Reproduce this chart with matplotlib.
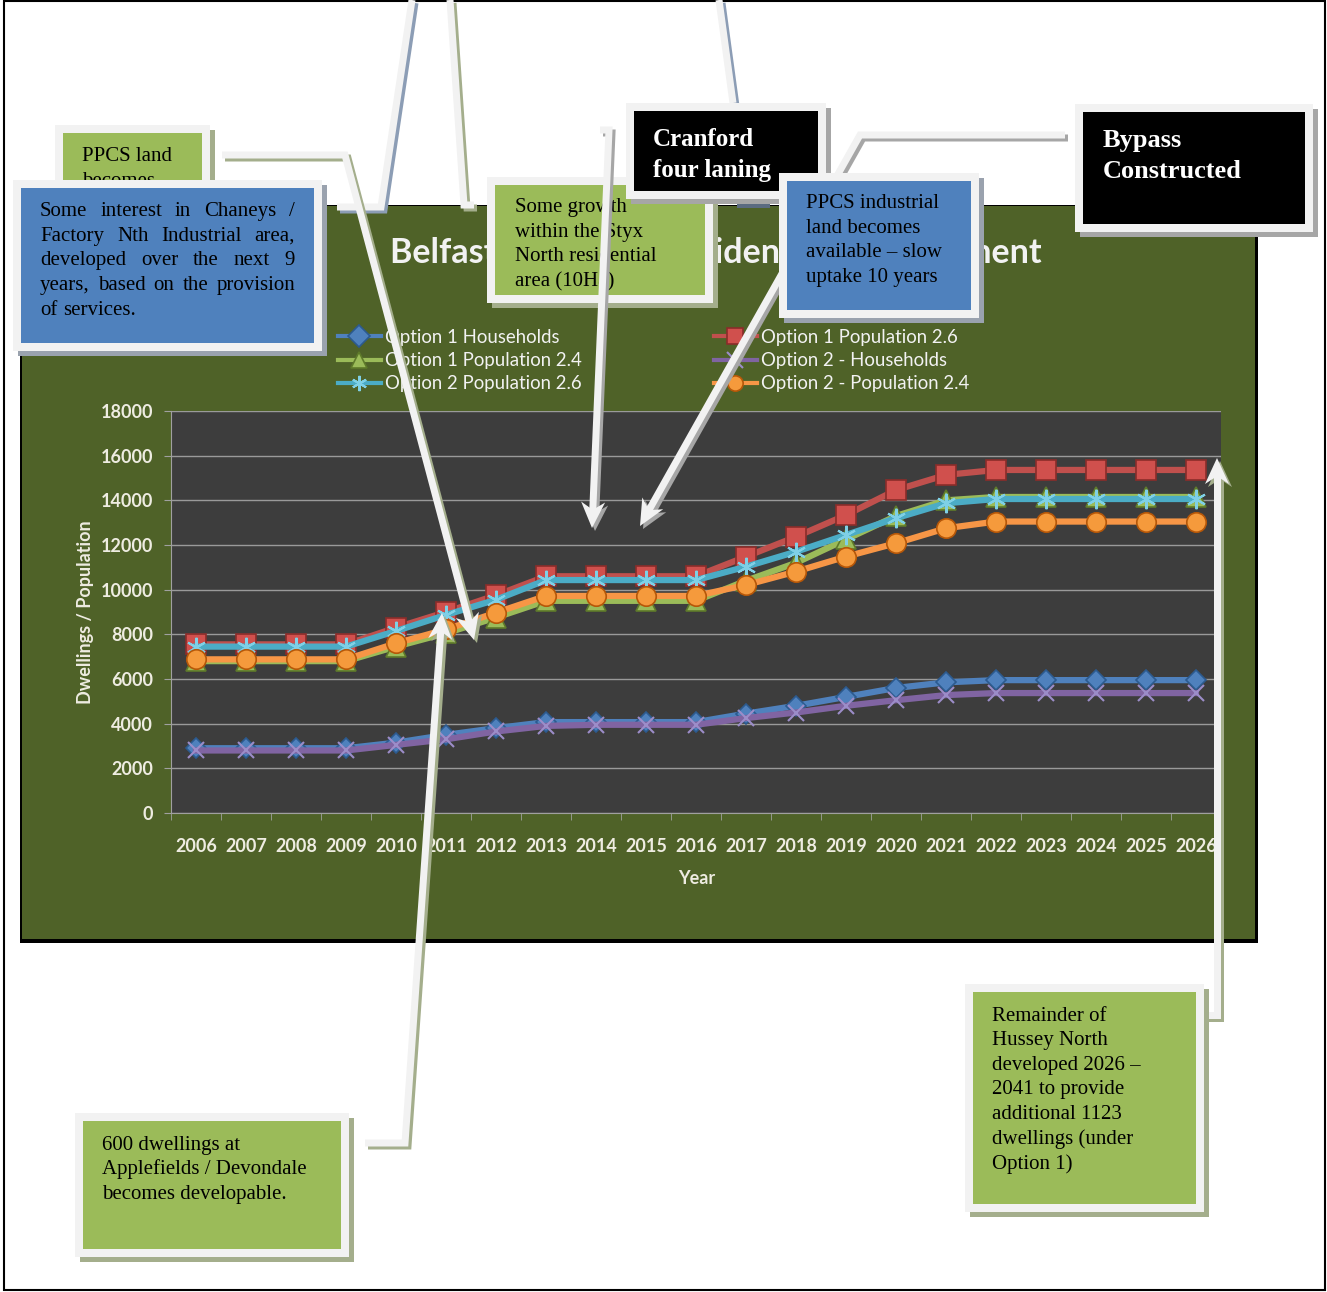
import numpy as np
import matplotlib
matplotlib.use("Agg")
import matplotlib.pyplot as plt
from matplotlib.patches import Rectangle, Polygon

W, H = 1327, 1292

# ---------------- data ----------------
years = list(range(2006, 2027))
year_labels = [str(y) for y in years]
y_ticks = [0, 2000, 4000, 6000, 8000, 10000, 12000, 14000, 16000, 18000]

opt1_households = [2900, 2900, 2900, 2900, 3150, 3500, 3800, 4070, 4070, 4070, 4070,
                   4450, 4800, 5200, 5600, 5850, 5950, 5950, 5950, 5950, 5950]
opt1_pop26 = [7550, 7550, 7550, 7550, 8300, 9000, 9750, 10600, 10600, 10600, 10600,
              11480, 12370, 13340, 14460, 15140, 15360, 15360, 15360, 15360, 15360]
opt1_pop24 = [6800, 6800, 6800, 6800, 7450, 8050, 8750, 9500, 9500, 9500, 9500,
              10400, 11200, 12250, 13300, 14000, 14150, 14150, 14150, 14150, 14150]
opt2_households = [2800, 2800, 2800, 2800, 3050, 3300, 3650, 3900, 3950, 3950, 3950,
                   4250, 4500, 4800, 5050, 5280, 5370, 5370, 5370, 5370, 5370]
opt2_pop26 = [7450, 7450, 7450, 7450, 8150, 8870, 9550, 10430, 10430, 10430, 10430,
              11030, 11700, 12450, 13200, 13870, 14060, 14060, 14060, 14060, 14060]
opt2_pop24 = [6880, 6880, 6880, 6880, 7600, 8220, 8970, 9720, 9720, 9720, 9720,
              10210, 10810, 11480, 12080, 12750, 13050, 13050, 13050, 13050, 13050]

series_labels = ["Option 1 Households", "Option 1 Population 2.6", "Option 1 Population 2.4",
                 "Option 2 - Households", "Option 2 Population 2.6", "Option 2 - Population 2.4"]
series_values = [opt1_households, opt1_pop26, opt1_pop24, opt2_households, opt2_pop26, opt2_pop24]

chart_title = "Belfast Projected Residential Development"
x_title = "Year"
y_title = "Dwellings / Population"

# ---------------- styles ----------------
series_styles = [
    dict(color="#4F81BD", marker="D", ms=10, mfc="#4F81BD", mec="#2C5A8F", mew=1.2),
    dict(color="#C0504D", marker="s", ms=14, mfc="#D0504D", mec="#8B2D2A", mew=1.2),
    dict(color="#9BBB59", marker="^", ms=14, mfc="#9BBB59", mec="#5E7A2A", mew=1.2),
    dict(color="#8064A2", marker="x", ms=12, mfc="none", mec="#9C8DC9", mew=1.5),
    dict(color="#4BACC6", marker=(6, 2, 0), ms=14, mfc="none", mec="#7FD0E6", mew=1.5),
    dict(color="#F79646", marker="o", ms=14, mfc="#F59A3C", mec="#B65708", mew=1.2),
]

plt.rcParams["font.family"] = ["Lato", "DejaVu Sans"]
PT = 0.72
LABEL_COL = "#EEECE1"
SERIF = ["Liberation Serif", "DejaVu Serif"]

fig = plt.figure(figsize=(W / 100, H / 100), dpi=100)
fig.patch.set_facecolor("white")
renderer = fig.canvas.get_renderer()

# ---------------- background layer ----------------
bg = fig.add_axes([0, 0, 1, 1], zorder=0)
bg.set_xlim(0, W)
bg.set_ylim(H, 0)
bg.axis("off")
bg.add_patch(Rectangle((4, 1), 1321, 1289, fill=False, ec="black", lw=1.5))
bg.add_patch(Rectangle((20, 205), 1238, 738, fc="black", ec="none"))
bg.add_patch(Rectangle((22, 206), 1233, 733, fc="#4F6228", ec="none"))

title = bg.text(716, 253, chart_title, ha="center", va="center", fontsize=24,
                fontweight="bold", color="#F2F2F2")
tw = title.get_window_extent(renderer).width
title.set_fontsize(24 * 652 / tw)

# ---------------- chart ----------------
ax = fig.add_axes([171 / W, 1 - 813 / H, 1050 / W, 402 / H], zorder=1)
ax.set_facecolor("#3D3D3D")
x = np.arange(len(years))
handles = []
for lab, vals, st in zip(series_labels, series_values, series_styles):
    h, = ax.plot(x, vals, lw=4.5, label=lab, solid_joinstyle="round", **st)
    handles.append(h)

ax.set_xlim(-0.5, len(years) - 0.5)
ax.set_ylim(0, 18000)
ax.set_yticks(y_ticks)
ax.set_yticklabels([str(v) for v in y_ticks])
ax.set_xticks(x)
ax.set_xticklabels(year_labels)
ax.set_xticks(np.arange(-0.5, len(years), 1), minor=True)
ax.grid(axis="y", color="#9A9A9A", lw=1)
ax.set_axisbelow(True)
for s in ["top", "right"]:
    ax.spines[s].set_visible(False)
for s in ["left", "bottom"]:
    ax.spines[s].set_color("#A0A0A0")
ax.tick_params(axis="x", which="major", length=0, pad=18, labelsize=13, labelcolor=LABEL_COL)
ax.tick_params(axis="x", which="minor", length=5, color="#A0A0A0", direction="out")
ax.tick_params(axis="y", length=5, color="#A0A0A0", pad=8, labelsize=13, labelcolor=LABEL_COL)
for lbl in ax.get_xticklabels() + ax.get_yticklabels():
    lbl.set_fontweight("bold")

ax.set_ylabel(y_title, fontsize=13, fontweight="bold", color=LABEL_COL, va="center", ha="center")
ax.yaxis.set_label_coords((86 - 171) / 1050, 0.5)
ax.set_xlabel(x_title, fontsize=13, fontweight="bold", color=LABEL_COL, va="center", ha="center")
ax.xaxis.set_label_coords((697 - 171) / 1050, -(878 - 813) / 402)

left_idx = [0, 2, 4]
right_idx = [1, 3, 5]
leg_kw = dict(loc="upper left", bbox_transform=fig.transFigure, frameon=False, fontsize=13.4,
              labelcolor="#F2F2F2", handlelength=2.3, handletextpad=0.2, labelspacing=0.33,
              borderpad=0, borderaxespad=0)
leg1 = ax.legend([handles[i] for i in left_idx], [series_labels[i] for i in left_idx],
                 bbox_to_anchor=(338 / W, 1 - 329 / H), **leg_kw)
ax.add_artist(leg1)
leg2 = ax.legend([handles[i] for i in right_idx], [series_labels[i] for i in right_idx],
                 bbox_to_anchor=(714 / W, 1 - 329 / H), **leg_kw)
for lg in (leg1, leg2):
    for ln in lg.get_lines():
        ln.set_linewidth(3)
        ln.set_markersize(11)

# ---------------- overlay (call-outs) ----------------
ov = fig.add_axes([0, 0, 1, 1], zorder=10)
ov.set_xlim(0, W)
ov.set_ylim(H, 0)
ov.axis("off")
ov.patch.set_alpha(0)

FRAME = "#F2F2F2"


def box(x0, y0, x1, y1, fill, shadow, z, inset=8):
    ov.add_patch(Rectangle((x0 + 5, y0 + 5), x1 - x0, y1 - y0, fc=shadow, ec="none", zorder=z))
    ov.add_patch(Rectangle((x0, y0), x1 - x0, y1 - y0, fc=FRAME, ec="none", zorder=z))
    ov.add_patch(Rectangle((x0 + inset, y0 + inset), x1 - x0 - 2 * inset, y1 - y0 - 2 * inset,
                           fc=fill, ec="none", zorder=z))


def lines_text(x0, centers, lines, z, bold=False, color="black", size=15, clip=None):
    off = 8.5 if bold else 6
    for yc, ln in zip(centers, lines):
        t = ov.text(x0, yc + off, ln, ha="left", va="baseline", fontsize=size,
                    fontweight="bold" if bold else "normal", color=color, family=SERIF, zorder=z + 0.5)
        if clip is not None:
            cx0, cy0, cx1, cy1 = clip
            t.set_clip_path(Rectangle((cx0, cy0), cx1 - cx0, cy1 - cy0, transform=ov.transData))


def text_width(s, size):
    t = ov.text(0, 0, s, fontsize=size, family=SERIF)
    w = t.get_window_extent(renderer).width
    t.remove()
    return w


def justified_text(x0, x1, centers, lines, z, size=15):
    space = text_width("a a", size) - 2 * text_width("a", size)
    for i, (yc, ln) in enumerate(zip(centers, lines)):
        words = ln.split()
        ts = [ov.text(0, yc + 6, w, ha="left", va="baseline", fontsize=size, color="black",
                      family=SERIF, zorder=z + 0.5) for w in words]
        widths = [t.get_window_extent(renderer).width for t in ts]
        if i == len(lines) - 1 or len(words) == 1:
            gap = space
        else:
            gap = (x1 - x0 - sum(widths)) / (len(words) - 1)
        xx = x0
        for t, w in zip(ts, widths):
            t.set_x(xx)
            xx += w + gap


def connector(pts, shadow, z, arrow=False, lw_px=7, head_len=26, head_w=12):
    pts = np.array(pts, float)
    line = pts.copy()
    head = None
    if arrow:
        tip = pts[-1]
        d = pts[-1] - pts[-2]
        d = d / np.hypot(*d)
        n = np.array([-d[1], d[0]])
        base = tip - d * head_len
        line[-1] = tip - d * head_len * 0.6
        head = np.array([tip, base + n * head_w, tip - d * head_len * 0.7, base - n * head_w])
    for off, col, zz in [(3, shadow, z), (0, FRAME, z + 0.1)]:
        ov.plot(line[:, 0] + off, line[:, 1] + off, color=col, lw=lw_px * PT,
                solid_joinstyle="miter", solid_capstyle="butt", zorder=zz)
        if head is not None:
            ov.add_patch(Polygon(head + off, closed=True, fc=col, ec="none", zorder=zz))


GREEN = "#9BBB59"
BLUE = "#4F81BD"
GSH = "#A4AE8C"
BSH = "#8C9DB5"
GRAYSH = "#A6A6A6"

# lines from the top of the page
connector([(412, 0), (381, 207), (337, 207)], BSH, 1)
connector([(450, 0), (464, 205), (474, 205)], GSH, 1)
connector([(719, 0), (733, 103)], BSH, 1)
ov.add_patch(Rectangle((737, 200), 33, 8, fc="#5B6B80", ec="none", zorder=1))

# PPCS land
connector([(222, 155), (345, 155), (474, 640)], GSH, 1.5, arrow=True)
box(55, 125, 210, 240, GREEN, GSH, 2)
lines_text(82, [155, 180], ["PPCS land", "becomes"], 2)

# Some interest in Chaneys
box(13, 180, 322, 351, BLUE, "#9AA2AE", 3)
justified_text(40, 295, [210, 235, 259, 284, 309],
               ["Some interest in Chaneys /", "Factory Nth Industrial area,",
                "developed over the next 9", "years, based on the provision", "of services."], 3)

# Styx
box(487, 177, 713, 303, GREEN, GSH, 4)
lines_text(515, [206, 231, 255, 280],
           ["Some growth", "within the Styx", "North residential", "area (10Ha)"], 4,
           clip=(487, 177, 713, 288))

# Cranford
box(626, 103, 826, 199, "black", GRAYSH, 5)
lines_text(653, [137, 168], ["Cranford", "four laning"], 5, bold=True, color="white", size=18)

connector([(600, 130), (609, 130), (592, 528)], GRAYSH, 6, arrow=True)

# Bypass connector, PPCS industrial, Bypass
connector([(1065, 135), (860, 135), (640, 526)], GRAYSH, 7, arrow=True)
box(779, 173, 979, 318, BLUE, "#9AA2AE", 8)
lines_text(806, [202, 227, 251, 276],
           ["PPCS industrial", "land becomes", "available \u2013 slow", "uptake 10 years"], 8,
           clip=(779, 196, 979, 318))
box(1075, 104, 1313, 232, "black", GRAYSH, 9)
lines_text(1103, [138, 170], ["Bypass", "Constructed"], 9, bold=True, color="white", size=19)

# 600 dwellings
connector([(365, 1143), (405, 1143), (442, 613)], GSH, 10, arrow=True)
box(75, 1113, 349, 1257, GREEN, GSH, 10.5)
lines_text(102, [1144, 1168, 1193],
           ["600 dwellings at", "Applefields / Devondale", "becomes developable."], 10.5)

# Remainder of Hussey North
connector([(1205, 1015), (1217, 1015), (1217, 458)], GSH, 11, arrow=True)
box(965, 984, 1204, 1212, GREEN, GSH, 11.5)
lines_text(992, [1015, 1039, 1064, 1088, 1113, 1138, 1163],
           ["Remainder of", "Hussey North", "developed 2026 \u2013", "2041 to provide",
            "additional 1123", "dwellings (under", "Option 1)"], 11.5)

fig.savefig("out.png", dpi=100)
